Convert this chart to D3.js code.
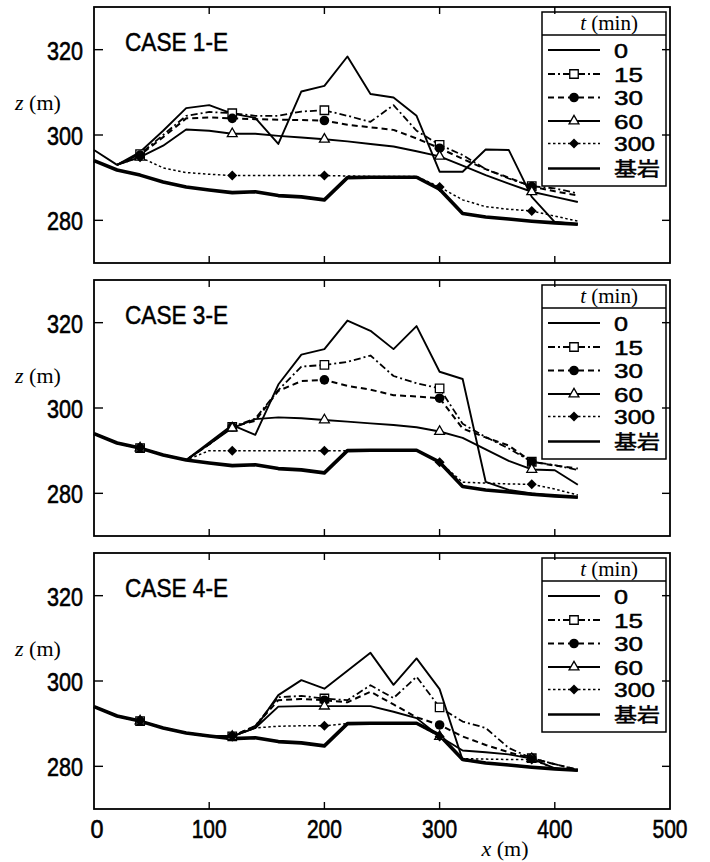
<!DOCTYPE html>
<html><head><meta charset="utf-8">
<script src="https://cdn.jsdelivr.net/npm/d3@7"></script>
<style>body{margin:0;background:#fff}</style>
</head><body>
<svg id="c" width="710" height="862"></svg>
<script>
// ---------- data ----------
const X = [0,20,40,60,80,100,120,140,160,180,200,220,240,260,280,300,320,340,360,380,400,420];
const BEDROCK = [294,291.8,290.6,289,287.8,287.1,286.5,286.7,285.8,285.5,284.8,290,290.1,290.1,290.1,287.3,281.6,280.8,280.3,279.8,279.4,279.1];

const CASE1_T0   = [296.5,293,296,301,306.3,307,305,304,297.9,310.2,311.5,318.4,309.6,308.8,304.5,291.4,291.4,296.6,296.5,285.5,279.6,279.1];
const CASE1_T15  = [null,293,295.5,300,304.5,305.4,305.1,304.5,304.5,305.5,305.8,304.5,303.1,307,301,297.7,295.3,292,289.8,288,287.5,286.3];
const CASE1_T30  = [null,293,295.3,299.5,303.9,304.1,303.9,303.7,303.6,303.5,303.4,302.4,301.8,301.2,299.2,296.9,294.4,292,290,287.9,286.8,285.8];
const CASE1_T60  = [null,293,294.8,297.5,301.3,301,300.3,300.3,299.8,299.4,299,298.5,297.9,297.3,296.2,295,292.8,290.6,288.6,286.7,285.5,284.3];
const CASE1_T300 = [null,293,294.8,292.3,291.2,290.8,290.5,290.5,290.5,290.5,290.5,290.4,290.3,290.3,290.3,287.8,284.8,283.2,282.6,282.2,281,279.8];

const CASE3_T0   = [294,291.8,290.6,289,287.8,291.9,296,293.7,305.5,312.5,313.8,320.5,318.1,313.8,319.2,308.5,306.8,282.7,280.8,280,279.4,279.1];
const CASE3_T15  = [294,291.8,290.6,289,287.8,291.5,295.6,297.5,304.2,309.7,310.1,310.8,312.3,307.5,305.8,304.6,296.3,293.2,290.5,287.4,286.6,285.5];
const CASE3_T30  = [294,291.8,290.6,289,287.8,291.5,295.6,297,304,306.3,306.6,305.2,304.3,303,302.7,302.3,295.2,293.1,291.2,287.4,286.5,285.8];
const CASE3_T60  = [294,291.8,290.6,289,287.8,291.5,295.3,297.4,297.8,297.6,297.2,296.8,296.4,296,295.5,294.5,293,290.3,287.6,285.6,285.4,282];
const CASE3_T300 = [294,291.8,290.6,289,287.8,290,290,290,290,290,290,290,290.1,290.1,290.1,287.3,282.6,282.4,282.2,282.1,281,279.6];

const CASE4_T0   = [294,291.8,290.6,289,287.8,287.1,287,289,296.7,300.2,298.2,302.4,306.6,299.1,305.3,298.1,281.5,280.8,280.3,279.8,279.4,279.1];
const CASE4_T15  = [294,291.8,290.6,289,287.8,287.1,287,289.5,296.2,296.5,295.9,295.5,299,296,301,293.8,290.5,289,284.3,281.9,280.5,279.2];
const CASE4_T30  = [294,291.8,290.6,289,287.8,287.1,287,289.5,295.5,295.8,295.5,295,297.5,294.5,291.5,289.7,287,285,283.3,281.9,280.5,279.2];
const CASE4_T60  = [294,291.8,290.6,289,287.8,287.1,287,289,294,294.1,294.1,294.1,294.1,292.8,291.3,287,283.7,283.3,282.8,281.8,279.5,279];
const CASE4_T300 = [294,291.8,290.6,289,287.8,287.1,287,289,289.4,289.5,289.5,290,290,290,290,287,281.8,281.7,281.6,281.6,279.5,279];

const MARKER_X = [40,120,200,300,380];
const LEGEND_LABELS = ["0","15","30","60","300","基岩"];
const PANEL_TITLES = ["CASE 1-E","CASE 3-E","CASE 4-E"];
const X_TICKS = [0,100,200,300,400,500];
const Y_TICKS = [280,300,320];

// ---------- layout ----------
const svg = d3.select("#c");
const PANEL_TOP = [7,280,553], PH = 256;
const xs = d3.scaleLinear().domain([0,500]).range([94,670]);
const SANS = "'Liberation Sans', Arial, sans-serif";
const SERIF = "'Liberation Serif', 'Times New Roman', serif";

const STYLES = [
  {dash:null, w:1.9, marker:null},
  {dash:"7,3,2,3", w:1.8, marker:"square"},
  {dash:"6,4", w:2, marker:"circle"},
  {dash:null, w:1.9, marker:"triangle"},
  {dash:"2.5,2.5", w:1.5, marker:"diamond"},
  {dash:null, w:3.6, marker:null}
];

const PANELS = [
  [CASE1_T0,CASE1_T15,CASE1_T30,CASE1_T60,CASE1_T300],
  [CASE3_T0,CASE3_T15,CASE3_T30,CASE3_T60,CASE3_T300],
  [CASE4_T0,CASE4_T15,CASE4_T30,CASE4_T60,CASE4_T300]
];

function drawMarker(g, type, cx, cy) {
  if (!type) return;
  if (type === "square") {
    g.append("path").attr("d", d3.symbol(d3.symbolSquare, 72)()).attr("transform",`translate(${cx},${cy})`)
      .attr("fill","#fff").attr("stroke","#000").attr("stroke-width",1.3);
  } else if (type === "circle") {
    g.append("circle").attr("cx",cx).attr("cy",cy).attr("r",4.8).attr("fill","#000");
  } else if (type === "triangle") {
    g.append("path").attr("d", d3.symbol(d3.symbolTriangle, 42)()).attr("transform",`translate(${cx},${cy})`)
      .attr("fill","#fff").attr("stroke","#000").attr("stroke-width",1.3);
  } else if (type === "diamond") {
    g.append("path").attr("d", "M0,-5L5,0L0,5L-5,0Z").attr("transform",`translate(${cx},${cy})`)
      .attr("fill","#000");
  }
}

PANELS.forEach((series, pi) => {
  const top = PANEL_TOP[pi];
  const ys = d3.scaleLinear().domain([270,330]).range([top+PH, top]);
  const g = svg.append("g");

  // legend (drawn first, data marks may overlap its border)
  const lg = g.append("g");
  const lx0 = 542, lx1 = 666, ly0 = top+5, lyH = top+28, ly1 = top+179;
  lg.append("rect").attr("x",lx0).attr("y",ly0).attr("width",lx1-lx0).attr("height",ly1-ly0)
    .attr("fill","#fff").attr("stroke","#000").attr("stroke-width",1.5);
  lg.append("line").attr("x1",lx0).attr("x2",lx1).attr("y1",lyH).attr("y2",lyH).attr("stroke","#000").attr("stroke-width",1.3);
  const tt = lg.append("text").attr("x",609).attr("y",top+23).attr("text-anchor","middle")
    .attr("font-family",SERIF).attr("font-size",21).attr("fill","#000");
  tt.append("tspan").attr("font-style","italic").text("t");
  tt.append("tspan").text(" (min)");
  const rowY = [43,67,90.5,114,136.5,161.5];
  const labelLen = [14,29,29,29,41,46];
  LEGEND_LABELS.forEach((lab, i) => {
    const st = STYLES[i];
    const yy = top + rowY[i];
    lg.append("line").attr("x1",548).attr("x2",600).attr("y1",yy).attr("y2",yy)
      .attr("stroke","#000").attr("stroke-width", i===5 ? 2.6 : st.w)
      .attr("stroke-dasharray", st.dash);
    drawMarker(lg, st.marker, 574, yy);
    lg.append("text").attr("x",614).attr("y",yy+7.5)
      .attr("font-family", i===5 ? "'Noto Sans CJK JP', 'Noto Sans CJK SC', sans-serif" : SANS)
      .attr("font-size", i===5 ? 19 : 21).attr("fill","#000")
      .attr("stroke","#000").attr("stroke-width",0.5).text(lab)
      .attr("textLength", labelLen[i]).attr("lengthAdjust","spacingAndGlyphs");
  });

  // lines
  const line = d3.line().defined(d => d[1] != null).x(d => xs(d[0])).y(d => ys(d[1]));
  const drawSeries = (vals, st) => {
    g.append("path").datum(X.map((x,i)=>[x, vals[i]])).attr("d", line)
      .attr("fill","none").attr("stroke","#000").attr("stroke-width",st.w)
      .attr("stroke-linejoin","round").attr("stroke-dasharray", st.dash);
  };
  drawSeries(BEDROCK, STYLES[5]);
  series.forEach((vals, si) => drawSeries(vals, STYLES[si]));
  // markers
  series.forEach((vals, si) => {
    const st = STYLES[si];
    if (!st.marker) return;
    MARKER_X.forEach(mx => {
      const v = vals[X.indexOf(mx)];
      if (v != null) drawMarker(g, st.marker, xs(mx), ys(v));
    });
  });

  // frame
  g.append("rect").attr("x",94).attr("y",top).attr("width",670-94).attr("height",PH)
    .attr("fill","none").attr("stroke","#000").attr("stroke-width",1.8);
  // ticks
  Y_TICKS.forEach(v => {
    g.append("line").attr("x1",94).attr("x2",103).attr("y1",ys(v)).attr("y2",ys(v)).attr("stroke","#000").attr("stroke-width",1.4);
    g.append("line").attr("x1",662).attr("x2",670).attr("y1",ys(v)).attr("y2",ys(v)).attr("stroke","#000").attr("stroke-width",1.4);
    g.append("text").attr("x",83).attr("y",ys(v)+10).attr("text-anchor","end")
      .attr("font-family",SANS).attr("font-size",26).attr("fill","#000")
      .attr("stroke","#000").attr("stroke-width",0.6)
      .attr("textLength",36).attr("lengthAdjust","spacingAndGlyphs").text(v);
  });
  X_TICKS.slice(1,-1).forEach(v => {
    g.append("line").attr("x1",xs(v)).attr("x2",xs(v)).attr("y1",top).attr("y2",top+7).attr("stroke","#000").attr("stroke-width",1.4);
    g.append("line").attr("x1",xs(v)).attr("x2",xs(v)).attr("y1",top+PH).attr("y2",top+PH-7).attr("stroke","#000").attr("stroke-width",1.4);
  });
  // y label
  const zl = g.append("text").attr("x",15).attr("y",top+103).attr("font-family",SERIF).attr("font-size",22).attr("fill","#000");
  zl.append("tspan").attr("font-style","italic").text("z");
  zl.append("tspan").text(" (m)");
  // title
  g.append("text").attr("x",125).attr("y",top+44).attr("font-family",SANS).attr("font-size",26).attr("fill","#000")
    .attr("stroke","#000").attr("stroke-width",0.5)
    .attr("textLength",103).attr("lengthAdjust","spacingAndGlyphs").text(PANEL_TITLES[pi]);

  if (pi === 2) {
    X_TICKS.forEach(v => {
      g.append("text").attr("x",xs(v)+ (v===0?3:0)).attr("y",top+PH+29).attr("text-anchor","middle")
        .attr("font-family",SANS).attr("font-size",26).attr("fill","#000")
        .attr("stroke","#000").attr("stroke-width",0.6)
        .attr("textLength", v===0 ? 13 : 35).attr("lengthAdjust","spacingAndGlyphs").text(v);
    });
    const xl = g.append("text").attr("x",505).attr("y",856).attr("text-anchor","middle")
      .attr("font-family",SERIF).attr("font-size",22).attr("fill","#000");
    xl.append("tspan").attr("font-style","italic").text("x");
    xl.append("tspan").text(" (m)");
  }
});
</script>
</body></html>
